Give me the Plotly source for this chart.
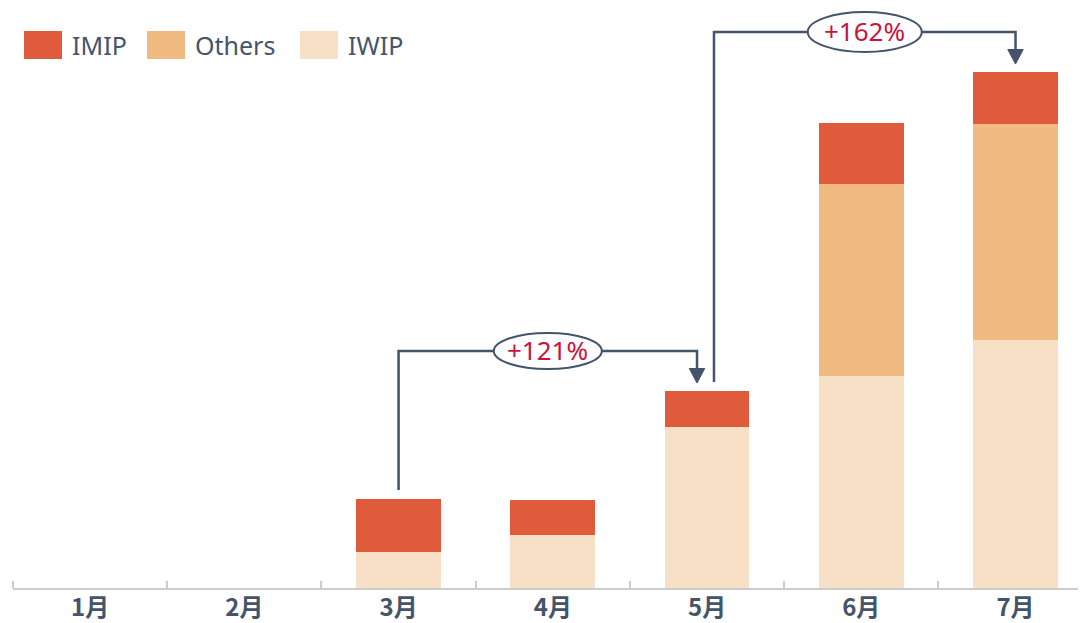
import plotly.graph_objects as go

# ---- data ----
months = ["1月", "2月", "3月", "4月", "5月", "6月", "7月"]
iwip = [0, 0, 3.6, 5.3, 16.1, 21.2, 24.8]
others = [0, 0, 0, 0, 0, 19.2, 21.6]
imip = [0, 0, 5.3, 3.5, 3.6, 6.1, 5.2]
series_names = ["IMIP", "Others", "IWIP"]
growth_pairs = [(2, 4), (4, 6)]
growth_labels = ["+121%", "+162%"]

# ---- style ----
C_IMIP, C_OTH, C_IWIP = "#E05B3C", "#F0BA80", "#F8E0C7"
SLATE = "#44546A"
RED = "#C8143C"
OFF = 8  # page body margin
W, H = 1086 - OFF, 623 - OFF
ML, MR, MT, MB = 5, 0, 0, 35
x_idx = list(range(len(months)))
totals = [a + b + c for a, b, c in zip(iwip, others, imip)]
YMAX = 58.0
XMAX = 6.457

fig = go.Figure()
for name, vals, col in [("IWIP", iwip, C_IWIP), ("Others", others, C_OTH), ("IMIP", imip, C_IMIP)]:
    fig.add_trace(go.Bar(x=x_idx, y=vals, name=name, marker=dict(color=col, line=dict(width=0)),
                         width=0.55, showlegend=False, hoverinfo="skip"))

shapes = []
annotations = []
start_off = [0.0, 0.045]
end_off = [-0.065, 0.0]
ell_size = [(54, 18), (57, 20)]
for i, ((a, b), lab) in enumerate(zip(growth_pairs, growth_labels)):
    x0 = a + start_off[i]
    x1 = b + end_off[i]
    y0 = totals[a] + 0.9
    yh = totals[b] + 4.0
    tip = totals[b] + 0.8
    base = tip + 1.45
    hw = 0.05
    shapes.append(dict(type="path", xref="x", yref="y",
                       path=f"M {x0},{y0} L {x0},{yh} L {x1},{yh} L {x1},{base}",
                       line=dict(color=SLATE, width=2.5), layer="above"))
    shapes.append(dict(type="path", xref="x", yref="y",
                       path=f"M {x1-hw},{base} L {x1+hw},{base} L {x1},{tip} Z",
                       line=dict(color=SLATE, width=1), fillcolor=SLATE, layer="above"))
    xm = (x0 + x1) / 2
    ex, ey = ell_size[i]
    shapes.append(dict(type="circle", xref="x", yref="y", xsizemode="pixel", ysizemode="pixel",
                       xanchor=xm, yanchor=yh, x0=-ex, x1=ex, y0=-ey, y1=ey,
                       line=dict(color=SLATE, width=2), fillcolor="white", layer="above"))
    annotations.append(dict(x=xm, y=yh, xref="x", yref="y", text=lab, showarrow=False,
                            font=dict(size=26, color=RED, family="Noto Sans"), yshift=1))

# custom legend (positions given in page pixels)
pw = W - ML - MR
ph = H - MT - MB
def px2paper_x(px):
    return (px - OFF - ML) / pw
def py2paper_y(py):
    return (H - MB - (py - OFF)) / ph

leg = [("IMIP", C_IMIP, 24), ("Others", C_OTH, 147), ("IWIP", C_IWIP, 300)]
for name, col, lx in leg:
    shapes.append(dict(type="rect", xref="paper", yref="paper",
                       x0=px2paper_x(lx), x1=px2paper_x(lx + 38),
                       y0=py2paper_y(59), y1=py2paper_y(31),
                       fillcolor=col, line=dict(width=0)))
    annotations.append(dict(x=px2paper_x(lx + 46), y=py2paper_y(45), xref="paper", yref="paper",
                            text=name, showarrow=False, xanchor="left", yanchor="middle",
                            font=dict(size=25, color=SLATE, family="Noto Sans")))

fig.update_layout(
    width=W, height=H, margin=dict(l=ML, r=MR, t=MT, b=MB, autoexpand=False),
    paper_bgcolor="white", plot_bgcolor="white",
    barmode="stack", showlegend=False,
    shapes=shapes, annotations=annotations,
    xaxis=dict(range=[-0.5, XMAX], tickmode="array", tickvals=x_idx, ticktext=months,
               ticks="", showgrid=False, zeroline=False, automargin=False,
               showline=True, linecolor="#CCCCCC", linewidth=1.5,
               ticklabelstandoff=-3,
               tickfont=dict(size=24, color=SLATE, family="Noto Sans CJK SC", weight="bold"),
               minor=dict(tickmode="array", tickvals=[i - 0.5 for i in range(len(months) + 1)],
                          ticks="inside", ticklen=7, tickcolor="#CCCCCC", tickwidth=1.5, showgrid=False),
               fixedrange=True),
    yaxis=dict(range=[0, YMAX], visible=False, showgrid=False, zeroline=False, fixedrange=True),
)

fig.write_html("out.html")
